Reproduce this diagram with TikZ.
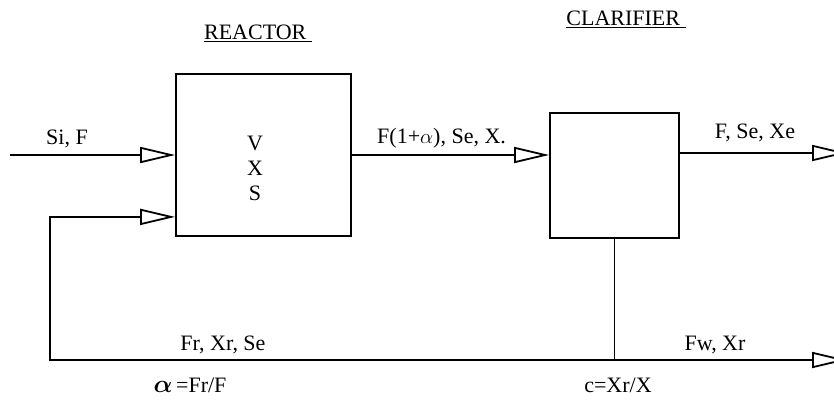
\documentclass[tikz,border=0pt]{standalone}
\usepackage{bm}
\usepackage{fontspec}
\setmainfont{Liberation Serif}
\usepackage{tikz}
\usetikzlibrary{arrows.meta}
\usetikzlibrary{calc}
\tikzset{
  unit box/.style={draw, line width=1.8pt, inner sep=0pt},
  pipe/.style={line width=1.8pt},
  stream/.style={line width=1.8pt, arrows = {-Triangle[open, fill=white, length=35pt, width=16pt, line width=1.8pt]}},
  label text/.style={font=\fontsize{22}{25}\selectfont, inner sep=0pt},
}

\begin{document}
\begin{tikzpicture}[x=1pt, y=-1pt]
    \useasboundingbox (0,0) rectangle (834,400);
    % Units
    \node [unit box, minimum width=175pt, minimum height=162pt] (reactor) at (263.5,155) {};
    \node [unit box, minimum width=129pt, minimum height=125pt] (clarifier) at (614.5,175.5) {};
    \node [label text, align=center] (state) at (255,168) {V\\X\\S};
    \node [label text] (reactortitle) at (258,33) {\underline{REACTOR~}};
    \node [label text] (clarifiertitle) at (626,19) {\underline{CLARIFIER~}};
    % Streams
    \coordinate (feed) at (10,155);
    \coordinate (effluent) at (847,153);
    \coordinate (waste) at (847,360);
    \coordinate (split) at (clarifier.south |- waste);
    \coordinate (corner) at (50,360);
    \coordinate (return) at ($(reactor.south west)+(0,-20)$);
    \draw [stream] (feed) -- (reactor.west);
    \draw [stream] (reactor.east) -- (reactor.east -| clarifier.west);
    \draw [stream] (clarifier.east |- effluent) -- (effluent);
    \draw [pipe] (clarifier.south) -- (split);
    \draw [stream] (split) -- (waste);
    \draw [stream] (split) -- (corner) |- (return);
    % Labels
    \node [label text] (feedlabel) at (67,139) {Si, F};
    \node [label text, anchor=west] (mixlabel) at (377,138) {F(1+$\alpha$), Se, X.};
    \node [label text] (effluentlabel) at (755,133) {F, Se, Xe};
    \node [label text] (recyclelabel) at (223,345) {Fr, Xr, Se};
    \node [label text] (wastelabel) at (715,345) {Fw, Xr};
    \node [label text] (ratiolabel) at (190,385) {{\fontsize{30}{30}\selectfont$\bm{\alpha}$}\,=Fr/F};
    \node [label text] (concentrationlabel) at (618,385) {c=Xr/X};
\end{tikzpicture}
\end{document}
